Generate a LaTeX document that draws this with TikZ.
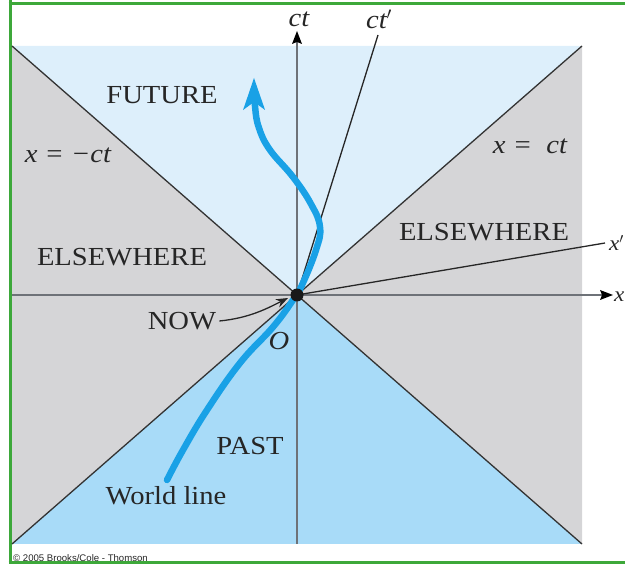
\documentclass[tikz,border=0pt]{standalone}
\usepackage{fontspec}
\setmainfont{Liberation Serif}[FakeStretch=1.1]
\newfontfamily\cpfont{Liberation Sans}
\usetikzlibrary{arrows.meta}
\definecolor{futurec}{HTML}{DDEFFB}
\definecolor{pastc}{HTML}{A8DBF8}
\definecolor{elsec}{HTML}{D5D5D7}
\definecolor{wlc}{HTML}{19A1E6}
\definecolor{axisc}{HTML}{6E7278}
\definecolor{framec}{HTML}{3DA83A}
\begin{document}
\begin{tikzpicture}[x=1pt,y=-1pt,
  lbl/.style={font=\fontsize{26}{28}\selectfont, inner sep=0pt, text=black!85},
  ilbl/.style={font=\fontsize{26}{28}\selectfont\itshape, inner sep=0pt, text=black!85},
  slbl/.style={font=\fontsize{21}{23}\selectfont\itshape, inner sep=0pt, text=black!85},
  axisline/.style={draw=axisc, line width=1.8pt},
  coneline/.style={draw=black!80, line width=1.3pt},
  primeline/.style={draw=black!85, line width=1.3pt},
  worldline/.style={draw=wlc, line width=6.5pt, line cap=round},
  nowarrow/.style={draw=black!85, line width=1.3pt, -{Stealth[length=12pt,width=9pt]}}]
\useasboundingbox (0,0) rectangle (625,564);
% frame
\draw[framec, line width=3pt] (10,0) -- (10,564);
\draw[framec, line width=3pt] (8.5,4) -- (625,4);
\draw[framec, line width=3pt] (8.5,563) -- (625,563);
% corners and origin
\coordinate (O) at (297,295);
\coordinate (tl) at (12,46);
\coordinate (tr) at (582,46);
\coordinate (bl) at (12,544);
\coordinate (br) at (582,544);
% regions
\fill[futurec] (tl) -- (tr) -- (O) -- cycle;
\fill[pastc] (bl) -- (br) -- (O) -- cycle;
\fill[elsec] (tl) -- (O) -- (bl) -- cycle;
\fill[elsec] (tr) -- (O) -- (br) -- cycle;
% light cone lines
\draw[coneline] (tl) -- (br);
\draw[coneline] (tr) -- (bl);
% axes
\coordinate (tbot) at (297,544);
\coordinate (ttop) at (297,31);
\coordinate (xleft) at (12,295);
\coordinate (xright) at (613,295);
\draw[axisline, -{Stealth[length=13pt,width=10pt,inset=2pt,color=black,line width=0pt]}] (tbot) -- (ttop);
\draw[axisline, -{Stealth[length=13pt,width=10pt,inset=2pt,color=black,line width=0pt]}] (xleft) -- (xright);
% primed axes
\coordinate (ctp) at (378,35);
\coordinate (xp) at (605,243);
\draw[primeline] (O) -- (ctp);
\draw[primeline] (O) -- (xp);
% world line
\draw[worldline, -{Stealth[length=32pt,width=22pt,inset=8pt,line width=0pt]}]
  plot[smooth, tension=0.7] coordinates {(167,480) (183,450) (207,410) (240,363) (273,327) (293,300) (302,285) (316,250) (320,227) (311,204) (293,177) (270,150) (259,128) (255,106) (254,78)};
% event dot
\node[circle, fill=black!90, minimum size=13pt, inner sep=0pt] (dot) at (O) {};
% labels
\node[ilbl] (ct) at (299,19) {ct};
\node[ilbl, anchor=center] (ctprime) at (379,19) {ct$'$};
\node[slbl, anchor=west] (xl) at (614,297) {x};
\node[slbl, anchor=west] (xpl) at (609,243) {x$'$};
\node[lbl] (future) at (162,95) {FUTURE};
\node[ilbl] (xmct) at (68,155) {x = −ct};
\node[ilbl] (xct) at (530,146) {x = \ ct};
\node[lbl] (elsel) at (122,257) {ELSEWHERE};
\node[lbl] (elser) at (484,232) {ELSEWHERE};
\node[lbl] (now) at (182,321) {NOW};
\node[ilbl] (olbl) at (279,341) {O};
\node[lbl] (past) at (250,446) {PAST};
\node[lbl] (wl) at (166,496) {World line};
\node[font=\cpfont\fontsize{9.6}{10}\selectfont, inner sep=0pt, anchor=west, text=black!85] (copy) at (13,558) {© 2005 Brooks/Cole - Thomson};
% NOW arrow
\coordinate (nowtip) at (288,298);
\draw[nowarrow] ([xshift=3pt]now.east) .. controls (250,318) and (268,308) .. (nowtip);
\end{tikzpicture}
\end{document}
